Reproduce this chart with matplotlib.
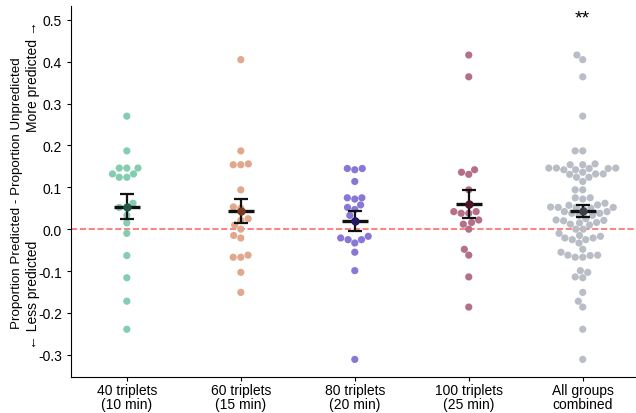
import numpy as np
import pandas as pd
import matplotlib
matplotlib.use("Agg")
import matplotlib.pyplot as plt
import seaborn as sns

plt.rcParams['font.family'] = ['Liberation Sans', 'DejaVu Sans']

labels = ['40 triplets\n(10 min)', '60 triplets\n(15 min)', '80 triplets\n(20 min)',
          '100 triplets\n(25 min)', 'All groups\ncombined']

g40 = [0.270, 0.187, 0.146, 0.146, 0.146, 0.132, 0.132, 0.124, 0.124, 0.062,
       0.052, 0.052, 0.033, 0.015, -0.010, -0.063, -0.116, -0.172, -0.239]
g60 = [0.405, 0.187, 0.154, 0.154, 0.156, 0.094, 0.053, 0.050, 0.025, 0.021,
       0.010, 0.000, -0.015, -0.021, -0.067, -0.067, -0.062, -0.103, -0.151]
g80 = [0.145, 0.142, 0.145, 0.114, 0.075, 0.072, 0.075, 0.058, 0.052, 0.047,
       0.033, 0.020, -0.017, -0.021, -0.025, -0.025, -0.033, -0.055, -0.099, -0.311]
g100 = [0.416, 0.364, 0.142, 0.136, 0.131, 0.094, 0.057, 0.042, 0.042, 0.038,
        0.038, 0.022, 0.016, 0.012, 0.000, -0.048, -0.062, -0.114, -0.186]
groups = [g40, g60, g80, g100, g40 + g60 + g80 + g100]

colors = ['#84cdb0', '#e2a88e', '#8877d6', '#b56f88', '#b9bec6']
dark = ['#1f5a45', '#7a3b22', '#231a66', '#4f1628', '#3c4048']

rows = []
for lab, vals in zip(labels, groups):
    for v in vals:
        rows.append((lab, v))
df = pd.DataFrame(rows, columns=['group', 'value'])

fig = plt.figure(figsize=(6.36, 4.14), dpi=100)
ax = fig.add_axes([0.1116, 0.087, 0.888, 0.896])

ax.axhline(0, color='#ff6b6b', ls='--', lw=1.2, zorder=1)

sns.swarmplot(data=df, x='group', y='value', hue='group', order=labels,
              palette=colors, size=5.2, legend=False, ax=ax, zorder=2)

# mean +/- SEM for each group
for i, vals in enumerate(groups):
    vals = np.array(vals)
    m = vals.mean()
    se = vals.std(ddof=1) / np.sqrt(len(vals))
    ax.errorbar(i, m, yerr=se, color='#111111', lw=1.6, capsize=5, capthick=1.6, zorder=4)
    ax.plot([i - 0.115, i + 0.115], [m, m], color='#111111', lw=2.4, solid_capstyle='butt', zorder=5)
    ax.plot(i, m, 'o', color=dark[i], ms=5, zorder=6)

ax.text(4, 0.505, '**', ha='center', va='center', fontsize=14)

ax.set_xlim(-0.49, 4.465)
ax.set_ylim(-0.353, 0.533)
ax.set_yticks(np.arange(-0.3, 0.51, 0.1))
ax.set_yticklabels([f'{t:.1f}' for t in np.arange(-0.3, 0.51, 0.1)])
ax.set_xlabel('')
ax.set_ylabel('')
ax.tick_params(labelsize=10, length=3)
ax.tick_params(axis='x', pad=1.5)
for lbl in ax.get_xticklabels():
    lbl.set_linespacing(0.95)
ax.spines['top'].set_visible(False)
ax.spines['right'].set_visible(False)

fig.text(17 / 636, (414 - 193) / 414, 'Proportion Predicted - Proportion Unpredicted',
         rotation=90, ha='center', va='center', fontsize=9.6)
fig.text(33 / 636, (414 - 21) / 414, 'More predicted \u2192',
         rotation=90, ha='center', va='top', fontsize=10)
fig.text(33 / 636, (414 - 349) / 414, '\u2190 Less predicted',
         rotation=90, ha='center', va='bottom', fontsize=10)

fig.savefig('out.png', dpi=100)
